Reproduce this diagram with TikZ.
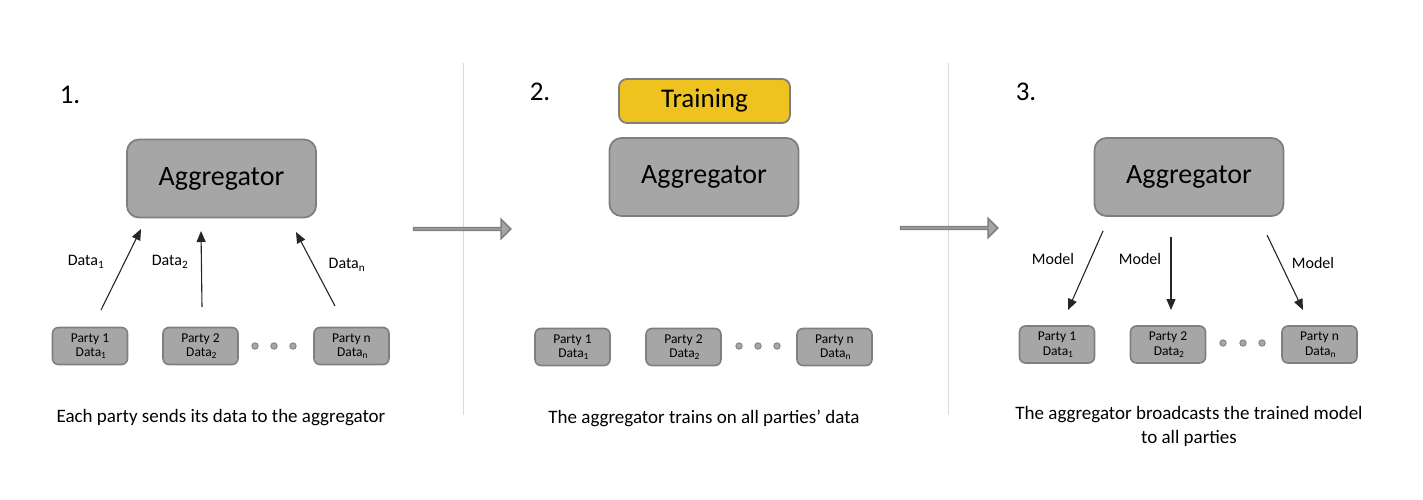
\documentclass[tikz,border=0pt]{standalone}
\usepackage{fontspec}
\setmainfont{Carlito}
\usetikzlibrary{arrows.meta,shapes.arrows}
\definecolor{boxfill}{HTML}{A6A6A6}
\definecolor{boxline}{HTML}{7F7F7F}
\definecolor{gold}{HTML}{EEC21F}
\definecolor{sepline}{HTML}{D9D9D9}
\begin{document}
\begin{tikzpicture}[x=1pt,y=-1pt,
  aggbox/.style={draw=boxline,fill=boxfill,line width=1.8pt,rounded corners=12pt,
    minimum width=189pt,minimum height=78pt,inner sep=0pt,font=\fontsize{28}{32}\selectfont},
  trainbox/.style={draw=boxline,fill=gold,line width=1.8pt,rounded corners=8pt,
    minimum width=171pt,minimum height=44pt,inner sep=0pt,font=\fontsize{27}{30}\selectfont},
  partybox/.style={draw=boxline,fill=boxfill,line width=1.6pt,rounded corners=6pt,
    minimum width=75pt,minimum height=37pt,inner sep=0pt,align=center,
    font=\fontsize{13.5}{14.5}\selectfont},
  dot/.style={circle,draw=boxline,fill=boxfill,line width=0.8pt,minimum size=6.5pt,inner sep=0pt},
  flow/.style={-{Triangle[length=11pt,width=9pt]},line width=1.1pt,black!85},
  lbl/.style={font=\fontsize{16}{18}\selectfont},
  num/.style={font=\fontsize{27}{30}\selectfont},
  caption/.style={font=\fontsize{19}{24}\selectfont,align=center},
  bigarrow/.style={single arrow,draw=boxline,fill=boxfill,line width=1.6pt,
    minimum height=97pt,minimum width=19pt,single arrow head extend=5pt,
    single arrow tip angle=90,inner sep=0pt},
  sep/.style={draw=sepline,line width=1pt}]
\useasboundingbox (0,0) rectangle (1423,499);

% separators
\coordinate (s1a) at (463,63); \coordinate (s1b) at (463,415);
\coordinate (s2a) at (948,63); \coordinate (s2b) at (948,415);
\draw[sep] (s1a) -- (s1b);
\draw[sep] (s2a) -- (s2b);

% ---------- Panel 1 ----------
\node[num] (n1) at (70,95) {1.};
\node[aggbox] (agg1) at (221.5,178.5) {Aggregator};
\node[partybox] (p11) at (90,346) {Party 1\\\,Data\textsubscript{1}};
\node[partybox] (p12) at (200.5,346) {Party 2\\\,Data\textsubscript{2}};
\node[partybox] (p1n) at (351.5,346) {Party n\\\,Data\textsubscript{n}};
\node[dot] (d11) at (255,346) {};
\node[dot] (d12) at (274,346) {};
\node[dot] (d13) at (293,346) {};
\coordinate (a11s) at (101,310); \coordinate (a11e) at (141,229);
\coordinate (a12s) at (202,307); \coordinate (a12e) at (201,231);
\coordinate (a1ns) at (335,306); \coordinate (a1ne) at (296,232);
\draw[flow] (a11s) -- (a11e);
\draw[flow] (a12s) -- (a12e);
\draw[flow] (a1ns) -- (a1ne);
\node[lbl] (l11) at (86,262) {Data\textsubscript{1}};
\node[lbl] (l12) at (170,262) {Data\textsubscript{2}};
\node[lbl] (l1n) at (347,265) {Data\textsubscript{n}};
\node[caption] (c1) at (221,418) {Each party sends its data to the aggregator};

% arrow 1 -> 2
\node[bigarrow] (ba1) at (461.5,229) {};

% ---------- Panel 2 ----------
\node[num] (n2) at (540,92) {2.};
\node[trainbox] (train) at (704.5,101) {Training};
\node[aggbox] (agg2) at (704,177) {Aggregator};
\node[partybox] (p21) at (572.5,347) {Party 1\\\,Data\textsubscript{1}};
\node[partybox] (p22) at (683.5,347) {Party 2\\\,Data\textsubscript{2}};
\node[partybox] (p2n) at (834.5,347) {Party n\\\,Data\textsubscript{n}};
\node[dot] (d21) at (739,346) {};
\node[dot] (d22) at (758,346) {};
\node[dot] (d23) at (777,346) {};
\node[caption] (c2) at (704,418) {The aggregator trains on all parties’ data};

% arrow 2 -> 3
\node[bigarrow] (ba2) at (948.5,228) {};

% ---------- Panel 3 ----------
\node[num] (n3) at (1026,92) {3.};
\node[aggbox] (agg3) at (1189,177) {Aggregator};
\node[partybox] (p31) at (1057,344.5) {Party 1\\\,Data\textsubscript{1}};
\node[partybox] (p32) at (1168,344.5) {Party 2\\\,Data\textsubscript{2}};
\node[partybox] (p3n) at (1319.5,344.5) {Party n\\\,Data\textsubscript{n}};
\node[dot] (d31) at (1223,343) {};
\node[dot] (d32) at (1243,343) {};
\node[dot] (d33) at (1262,343) {};
\coordinate (a31s) at (1103,231); \coordinate (a31e) at (1068,310);
\coordinate (a32s) at (1171,237); \coordinate (a32e) at (1171,310);
\coordinate (a3ns) at (1267,235); \coordinate (a3ne) at (1303,310);
\draw[flow] (a31s) -- (a31e);
\draw[flow] (a32s) -- (a32e);
\draw[flow] (a3ns) -- (a3ne);
\node[lbl] (l31) at (1053,259) {Model};
\node[lbl] (l32) at (1140,259) {Model};
\node[lbl] (l3n) at (1313,263) {Model};
\node[caption] (c3) at (1189,426) {The aggregator broadcasts the trained model\\to all parties};
\end{tikzpicture}
\end{document}
